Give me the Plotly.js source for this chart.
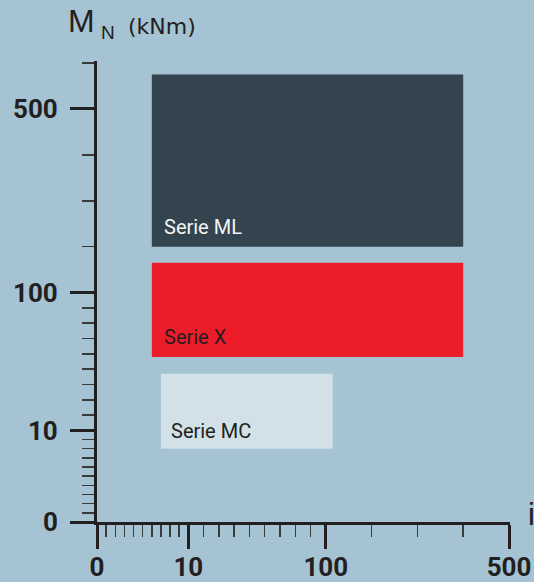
<!DOCTYPE html>
<html>
<head>
<meta charset="utf-8">
<script src="https://cdn.plot.ly/plotly-3.0.1.min.js"></script>
<style>html,body{margin:0;padding:0;background:#a5c3d3;}#chart{width:534px;height:582px;}</style>
</head>
<body>
<div id="chart"></div>
<script>
// ---- data ----
const seriesNames = ['Serie ML', 'Serie X', 'Serie MC'];
const ratioMin = [6, 6, 7];          // i (ratio) lower bound
const ratioMax = [400, 400, 115];    // i upper bound
const torqueMin = [200, 58, 8];      // M_N (kNm) lower bound
const torqueMax = [575, 165, 47];    // M_N (kNm) upper bound
const majorTicks = [0, 10, 100, 500];
const majorLabels = ['0', '10', '100', '500'];
const xMinorTicks = [1,2,3,4,5,6,7,8,9,20,30,40,50,60,70,80,90,200,300,400];
const yMinorTicks = [1,2,3,4,5,6,7,8,9,20,30,40,50,60,70,80,90,200,300,400,600];

// ---- piecewise scale of the schematic axes ----
const segVal = [0, 10, 100, 600];
const segPos = [0, 91.6, 229.4, 459.0];
function f(v) {
  for (let k = 0; k < segVal.length - 1; k++) {
    if (v <= segVal[k + 1] || k === segVal.length - 2) {
      return segPos[k] + (v - segVal[k]) * (segPos[k + 1] - segPos[k]) / (segVal[k + 1] - segVal[k]);
    }
  }
}

const fills = ['#33444f', '#ed1c2b', '#d2e1e8'];
const textColors = ['#f4f4f4', '#2a1c1e', '#231f20'];
const textShiftX = [10, 10, 8];
const textShiftY = [20, 20, 18];

const traces = seriesNames.map((name, k) => ({
  type: 'scatter',
  mode: 'none',
  name: name,
  x: [f(ratioMin[k]), f(ratioMax[k]), f(ratioMax[k]), f(ratioMin[k]), f(ratioMin[k])],
  y: [f(torqueMin[k]), f(torqueMin[k]), f(torqueMax[k]), f(torqueMax[k]), f(torqueMin[k])],
  fill: 'toself',
  fillcolor: fills[k],
  hoverinfo: 'name'
}));

const cond = 'Roboto, Liberation Sans, sans-serif';
const plain = 'Liberation Sans, Arial, Helvetica, sans-serif';
const wide = 'DejaVu Sans, Liberation Sans, sans-serif';
const ink = '#231f20';

const annotations = seriesNames.map((name, k) => ({
  xref: 'x', yref: 'y',
  x: f(ratioMin[k]), y: f(torqueMin[k]),
  xanchor: 'left', yanchor: 'middle',
  xshift: textShiftX[k], yshift: textShiftY[k],
  text: name, showarrow: false,
  font: {family: cond, size: 20, color: textColors[k]}
}));

// axis titles (px -> paper helpers)
const L = 97, T = 61, W = 413, H = 461;
const px = x => (x - L) / W;
const py = y => (T + H - y) / H;
annotations.push(
  {xref: 'paper', yref: 'paper', x: px(66), y: py(21), xanchor: 'left', yanchor: 'middle',
   text: 'M', showarrow: false, font: {family: plain, size: 32, color: ink}},
  {xref: 'paper', yref: 'paper', x: px(99), y: py(33), xanchor: 'left', yanchor: 'middle',
   text: 'N', showarrow: false, font: {family: plain, size: 19, color: ink}},
  {xref: 'paper', yref: 'paper', x: px(126), y: py(26), xanchor: 'left', yanchor: 'middle',
   text: '(kNm)', showarrow: false, font: {family: wide, size: 22, color: ink}},
  {xref: 'paper', yref: 'paper', x: px(526), y: py(514), xanchor: 'left', yanchor: 'middle',
   text: 'i', showarrow: false, font: {family: plain, size: 31, color: ink}}
);

const axisCommon = {
  showgrid: false, zeroline: false,
  showline: true, linewidth: 3, linecolor: ink,
  ticks: 'outside', ticklen: 24, tickwidth: 3, tickcolor: ink,
  tickmode: 'array',
  tickvals: majorTicks.map(f), ticktext: majorLabels,
  tickfont: {family: cond, size: 26, color: ink, weight: 'bold'},
  fixedrange: true
};

const layout = {
  width: 534, height: 582,
  margin: {l: L, r: 534 - L - W, t: T, b: 582 - T - H},
  paper_bgcolor: '#a5c3d3', plot_bgcolor: '#a5c3d3',
  showlegend: false,
  xaxis: Object.assign({}, axisCommon, {
    range: [0, f(500) + 1],
    ticklabelstandoff: -4,
    minor: {tickmode: 'array', tickvals: xMinorTicks.map(f), ticks: 'outside', ticklen: 12, tickwidth: 1.5, tickcolor: '#3a3a3a'}
  }),
  yaxis: Object.assign({}, axisCommon, {
    range: [0, f(600) + 2],
    ticklabelstandoff: 7,
    minor: {tickmode: 'array', tickvals: yMinorTicks.map(f), ticks: 'outside', ticklen: 12, tickwidth: 1.5, tickcolor: '#3a3a3a'}
  }),
  annotations: annotations
};

Plotly.newPlot('chart', traces, layout, {displayModeBar: false, staticPlot: true});
</script>
</body>
</html>
